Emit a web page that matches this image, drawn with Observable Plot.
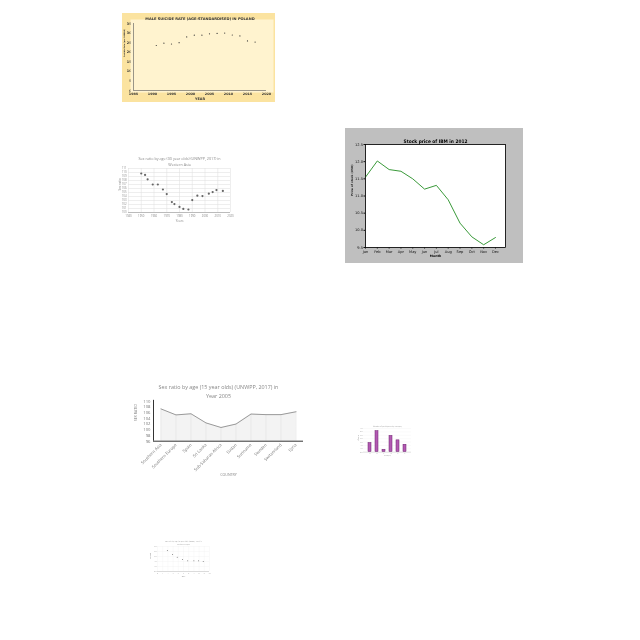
<!DOCTYPE html>
<html>
<head>
<meta charset="utf-8">
<script src="https://cdn.jsdelivr.net/npm/d3@7"></script>
<script src="https://cdn.jsdelivr.net/npm/@observablehq/plot@0.6"></script>
<style>
  html, body { margin: 0; padding: 0; background: #ffffff; }
  #root { position: relative; width: 640px; height: 640px; overflow: hidden; background: #ffffff; }
  #root svg { position: absolute; will-change: transform; }
</style>
</head>
<body>
<div id="root"></div>
<script>
// ---------- Chart 1: male suicide rate in Poland ----------
const suicideTitle = "MALE SUICIDE RATE (AGE-STANDARDISED) IN POLAND";
const suicideYears = [1991, 1993, 1995, 1997, 1999, 2001, 2003, 2005, 2007, 2009, 2011, 2013, 2015, 2017];
const suicideRate = [23.5, 24.7, 24.3, 25.0, 28.0, 28.9, 28.9, 29.6, 29.8, 30.0, 29.0, 28.5, 25.9, 25.3];
const suicideXTicks = [1985, 1990, 1995, 2000, 2005, 2010, 2015, 2020];
const suicideYTicks = [0, 5, 10, 15, 20, 25, 30, 35];

// ---------- Chart 2: sex ratio 00 year olds over years ----------
const sr0Title1 = "Sex ratio by age (00 year olds) (UNWPP, 2017) in";
const sr0Title2 = "Western Asia";
const sr0Years = [1950, 1953, 1955, 1959, 1963, 1967, 1970, 1974, 1976, 1980, 1983, 1987, 1990, 1994, 1998, 2003, 2006, 2009, 2014];
const sr0Values = [109.75, 109.4, 108.3, 107.0, 107.0, 105.75, 104.6, 102.6, 102.1, 101.4, 100.9, 100.75, 103.1, 104.2, 104.1, 104.7, 105.1, 105.6, 105.4];
const sr0XTicks = [1940, 1950, 1960, 1970, 1980, 1990, 2000, 2010, 2020];
const sr0YTicks = [100, 101, 102, 103, 104, 105, 106, 107, 108, 109, 110, 111];

// ---------- Chart 3: stock price 2012 ----------
const stockTitle = "Stock price of IBM in 2012";
const stockMonths = ["Jan", "Feb", "Mar", "Apr", "May", "Jun", "Jul", "Aug", "Sep", "Oct", "Nov", "Dec"];
const stockPrice = [11.55, 12.02, 11.77, 11.72, 11.50, 11.20, 11.31, 10.89, 10.21, 9.81, 9.58, 9.79];
const stockYTicks = [9.5, 10.0, 10.5, 11.0, 11.5, 12.0, 12.5];

// ---------- Chart 4: sex ratio 15 year olds by country, 2005 ----------
const sr15Title1 = "Sex ratio by age (15 year olds) (UNWPP, 2017) in";
const sr15Title2 = "Year 2005";
const sr15Countries = ["Southern Asia", "Southern Europe", "Spain", "Sri Lanka", "Sub-Saharan Africa", "Sudan", "Suriname", "Sweden", "Switzerland", "Syria"];
const sr15Values = [107.3, 105.2, 105.6, 102.4, 100.8, 102.0, 105.5, 105.3, 105.3, 106.3];
const sr15YTicks = [96, 98, 100, 102, 104, 106, 108, 110];

// ---------- Chart 5: small bar chart ----------
const barTitle = "Number of participants by category";
const barCategories = ["A", "B", "C", "D", "E", "F"];
const barValues = [2.7, 6.2, 0.7, 4.8, 3.5, 2.2];
const barYTicks = [0, 1, 2, 3, 4, 5, 6, 7];

// ---------- Chart 6: small scatter ----------
const smallTitle1 = "Sex ratio by age (20 year olds) (UNWPP, 2017) in";
const smallTitle2 = "Northern Europe";
const smallX = [1.9, 2.9, 3.8, 4.8, 5.8, 7.0, 7.9, 8.8];
const smallY = [4.2, 3.4, 2.86, 2.4, 2.14, 2.14, 2.14, 2.0];
const smallXTicks = [0, 1, 2, 3, 4, 5, 6, 7, 8, 9, 10];
const smallYTicks = [0, 1, 2, 3, 4, 5];

const root = document.getElementById("root");
function put(svg, x, y) {
  svg.style.position = "absolute";
  svg.style.left = x + "px";
  svg.style.top = y + "px";
  root.appendChild(svg);
}

// Chart 1
{
  const data = suicideYears.map((year, i) => ({year, rate: suicideRate[i]}));
  const svg = Plot.plot({
    width: 153, height: 89,
    marginLeft: 11, marginRight: 9, marginTop: 10, marginBottom: 12,
    style: {background: "#fbe3a0", fontFamily: "DejaVu Sans", fontSize: "3.4px", fontWeight: "bold", color: "#333", overflow: "visible"},
    x: {domain: [1985, 2020], ticks: suicideXTicks, tickFormat: d => String(d), tickSize: 1, tickPadding: 1, label: null},
    y: {domain: [0, 35], ticks: suicideYTicks, tickSize: 1, tickPadding: 1, label: null},
    marks: [
      Plot.frame({fill: "#fff3cf", stroke: null, insetLeft: -3, insetRight: -7, insetTop: -4, insetBottom: -2}),
      Plot.ruleY([0], {stroke: "#555", strokeWidth: 0.6}),
      Plot.ruleX([1985], {stroke: "#555", strokeWidth: 0.6}),
      Plot.dot(data, {x: "year", y: "rate", r: 0.6, fill: "#333", stroke: null}),
      Plot.text([suicideTitle], {frameAnchor: "top", dy: -6, fontSize: 3.6, fontWeight: "bold", fill: "#333"}),
      Plot.text(["YEAR"], {frameAnchor: "bottom", dy: 9, fontSize: 3.4, fontWeight: "bold", fill: "#333"}),
      Plot.text(["Suicide Rate (per 100000)"], {frameAnchor: "left", dx: -9, rotate: -90, fontSize: 1.9, fontWeight: "bold", fill: "#333"})
    ]
  });
  put(svg, 122, 13);
}

// Chart 2
{
  const data = sr0Years.map((year, i) => ({year, v: sr0Values[i]}));
  const svg = Plot.plot({
    width: 120, height: 75,
    marginLeft: 13, marginRight: 5, marginTop: 18, marginBottom: 13,
    style: {background: "transparent", fontFamily: "Open Sans", fontSize: "2.8px", color: "#888", overflow: "visible"},
    x: {domain: [1940, 2020], ticks: sr0XTicks, tickFormat: d => String(d), tickSize: 0, tickPadding: 2.5, label: null},
    y: {domain: [100, 111], ticks: sr0YTicks, tickSize: 0, tickPadding: 2, label: null},
    marks: [
      Plot.gridX(sr0XTicks, {stroke: "#dddddd", strokeOpacity: 1, strokeWidth: 0.5}),
      Plot.gridY(sr0YTicks, {stroke: "#dddddd", strokeOpacity: 1, strokeWidth: 0.5}),
      Plot.ruleY([100], {stroke: "#bbbbbb", strokeWidth: 1}),
      Plot.dot(data, {x: "year", y: "v", r: 1.1, fill: "#666", stroke: null}),
      Plot.text([sr0Title1], {frameAnchor: "top", dy: -11, fontSize: 3.7, fill: "#888"}),
      Plot.text([sr0Title2], {frameAnchor: "top", dy: -5.5, fontSize: 3.7, fill: "#888"}),
      Plot.text(["Years"], {frameAnchor: "bottom", dy: 9, fontSize: 3, fill: "#888"}),
      Plot.text(["Sex ratio"], {frameAnchor: "left", dx: -8, rotate: -90, fontSize: 3, fill: "#888"})
    ]
  });
  put(svg, 115, 150);
}

// Chart 3
{
  const data = stockMonths.map((m, i) => ({i, m, p: stockPrice[i]}));
  const svg = Plot.plot({
    width: 178, height: 135,
    marginLeft: 20, marginRight: 18, marginTop: 16, marginBottom: 16,
    style: {background: "#bfbfbf", fontFamily: "DejaVu Sans", fontSize: "3.6px", color: "#111", overflow: "visible"},
    x: {domain: [0, 11.85], ticks: d3.range(12), tickFormat: i => stockMonths[i], tickSize: 1.5, tickPadding: 1, label: null},
    y: {domain: [9.5, 12.5], ticks: stockYTicks, tickFormat: d3.format(".1f"), tickSize: 1.5, tickPadding: 1, label: null},
    marks: [
      Plot.frame({fill: "#ffffff", stroke: "#000", strokeWidth: 0.6}),
      Plot.line(data, {x: "i", y: "p", stroke: "#3a9a3a", strokeWidth: 1}),
      Plot.frame({stroke: "#000", strokeWidth: 0.6}),
      Plot.text([stockTitle], {frameAnchor: "top", dy: -4.5, fontSize: 4.8, fontWeight: "bold", fontFamily: "Liberation Sans Narrow, DejaVu Sans Condensed", fill: "#000"}),
      Plot.text(["Month"], {frameAnchor: "bottom", dy: 9, fontSize: 3.2, fontWeight: "bold", fill: "#000"}),
      Plot.text(["Price of stock (USD)"], {frameAnchor: "left", dx: -13, rotate: -90, fontSize: 2.8, fontWeight: "bold", fill: "#222"})
    ]
  });
  put(svg, 345, 128);
}

// Chart 4
{
  const data = sr15Countries.map((c, i) => ({i, c, v: sr15Values[i]}));
  const svg = Plot.plot({
    width: 185, height: 105,
    marginLeft: 28, marginRight: 7, marginTop: 22.7, marginBottom: 42.3,
    style: {background: "transparent", fontFamily: "Open Sans", fontSize: "4.2px", color: "#777", overflow: "visible"},
    x: {domain: [-0.5, 9.5], ticks: d3.range(10), tickFormat: i => sr15Countries[i], tickSize: 0, tickPadding: 3, tickRotate: -45, label: null},
    y: {domain: [96, 110], ticks: sr15YTicks, tickSize: 0, tickPadding: 3, label: null},
    marks: [
      Plot.areaY(data, {x: "i", y1: 96, y2: "v", fill: "#f3f3f3"}),
      Plot.ruleX(data, {x: "i", y1: 96, y2: "v", stroke: "#e2e2e2", strokeWidth: 0.6}),
      Plot.line(data, {x: "i", y: "v", stroke: "#999", strokeWidth: 1}),
      Plot.ruleY([96], {stroke: "#333", strokeWidth: 1}),
      Plot.ruleX([-0.5], {y1: 96, y2: 110.3, stroke: "#333", strokeWidth: 1}),
      Plot.text([sr15Title1], {frameAnchor: "top", dx: -10, dy: -16, fontSize: 5.4, fill: "#888"}),
      Plot.text([sr15Title2], {frameAnchor: "top", dx: -10, dy: -7.5, fontSize: 5.4, fill: "#888"}),
      Plot.text(["COUNTRY"], {frameAnchor: "bottom", dy: 35, fontSize: 3.6, fill: "#888"}),
      Plot.text(["SEX RATIO"], {frameAnchor: "left", dx: -18, rotate: -90, fontSize: 3.6, fill: "#888"})
    ]
  });
  put(svg, 125, 378);
}

// Chart 5
{
  const data = barCategories.map((c, i) => ({c, v: barValues[i]}));
  const svg = Plot.plot({
    width: 65, height: 37,
    marginLeft: 8, marginRight: 9, marginTop: 8, marginBottom: 5.3,
    style: {background: "transparent", fontFamily: "DejaVu Sans", fontSize: "1.5px", color: "#999", overflow: "visible"},
    x: {domain: barCategories, padding: 0.6, tickSize: 0, tickPadding: 1, label: null},
    y: {domain: [0, 7], ticks: barYTicks, tickSize: 0, tickPadding: 1, label: null},
    marks: [
      Plot.gridY(barYTicks, {stroke: "#eee", strokeOpacity: 1, strokeWidth: 0.3}),
      Plot.barY(data, {x: "c", y: "v", fill: "#b25ab2", stroke: "#6d1f6d", strokeWidth: 0.5}),
      Plot.ruleY([0], {stroke: "#bbb", strokeWidth: 0.4}),
      Plot.text([barTitle], {frameAnchor: "top", dy: -2.5, fontSize: 1.6, fill: "#888"}),
      Plot.text(["Category"], {frameAnchor: "bottom", dy: 4, fontSize: 1.5, fill: "#888"}),
      Plot.text(["Count"], {frameAnchor: "left", dx: -5, rotate: -90, fontSize: 1.8, fill: "#888"})
    ]
  });
  put(svg, 355, 420);
}

// Chart 6
{
  const data = smallX.map((x, i) => ({x, y: smallY[i]}));
  const svg = Plot.plot({
    width: 70, height: 45,
    marginLeft: 12, marginRight: 6, marginTop: 11, marginBottom: 9,
    style: {background: "transparent", fontFamily: "DejaVu Sans", fontSize: "1.5px", color: "#999", overflow: "visible"},
    x: {domain: [0, 10], ticks: smallXTicks, tickSize: 0, tickPadding: 1, label: null},
    y: {domain: [0, 5], ticks: smallYTicks, tickSize: 0, tickPadding: 1, label: null},
    marks: [
      Plot.gridX(smallXTicks, {stroke: "#eee", strokeOpacity: 1, strokeWidth: 0.3}),
      Plot.gridY(smallYTicks, {stroke: "#eee", strokeOpacity: 1, strokeWidth: 0.3}),
      Plot.ruleY([0], {stroke: "#bbb", strokeWidth: 0.5}),
      Plot.dot(data, {x: "x", y: "y", r: 0.5, fill: "#777", stroke: null}),
      Plot.text([smallTitle1], {frameAnchor: "top", dy: -5.5, fontSize: 1.5, fill: "#888"}),
      Plot.text([smallTitle2], {frameAnchor: "top", dy: -3, fontSize: 1.5, fill: "#888"}),
      Plot.text(["Years"], {frameAnchor: "bottom", dy: 5, fontSize: 1.4, fill: "#888"}),
      Plot.text(["Sex ratio"], {frameAnchor: "left", dx: -7, rotate: -90, fontSize: 1.4, fill: "#888"})
    ]
  });
  put(svg, 145, 535);
}
</script>
</body>
</html>
